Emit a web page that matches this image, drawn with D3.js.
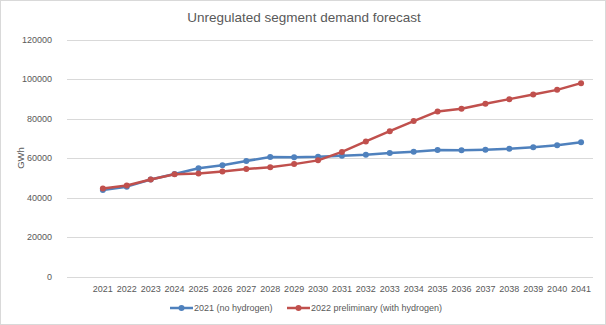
<!DOCTYPE html>
<html>
<head>
<meta charset="utf-8">
<script src="https://cdn.jsdelivr.net/npm/d3@7"></script>
<style>
  body { margin: 0; background: #fff; }
  svg { display: block; font-family: "Liberation Sans", Arial, sans-serif; }
</style>
</head>
<body>
<div id="chart"></div>
<script>
!(function(){
    "use strict"

    var width = 606;
    var height = 325;

    // Data
    var years = ["2021","2022","2023","2024","2025","2026","2027","2028","2029","2030",
                 "2031","2032","2033","2034","2035","2036","2037","2038","2039","2040","2041"];
    var noHydrogen = [43800, 45500, 49100, 51900, 54800, 56300, 58500, 60500, 60400, 60600,
                      61100, 61600, 62500, 63200, 64000, 63900, 64200, 64700, 65500, 66500, 68000];
    var withHydrogen = [44500, 46100, 49100, 51800, 52100, 53200, 54400, 55300, 56900, 58800,
                        63100, 68400, 73600, 78700, 83600, 84900, 87500, 89800, 92200, 94500, 97900];
    var yTicks = [0, 20000, 40000, 60000, 80000, 100000, 120000];
    var seriesNames = ["2021 (no hydrogen)", "2022 preliminary (with hydrogen)"];
    var seriesColors = ["#4f81bd", "#c0504d"];

    var series = [
        { name: seriesNames[0], color: seriesColors[0], values: noHydrogen },
        { name: seriesNames[1], color: seriesColors[1], values: withHydrogen }
    ];

    var margin = { left: 67, right: 13, top: 39, bottom: 48 };

    var svg = d3.select("#chart").append("svg")
        .attr("width", width)
        .attr("height", height);

    // chart border
    svg.append("rect")
        .attr("x", 0.5).attr("y", 0.5)
        .attr("width", width - 1).attr("height", height - 1)
        .attr("fill", "#fff")
        .attr("stroke", "#d9d9d9");

    // Excel leaves an empty first category slot
    var x = d3.scaleBand()
        .domain([""].concat(years))
        .range([margin.left, width - margin.right]);

    var y = d3.scaleLinear()
        .domain([0, 120000])
        .range([276.5, 39.5]);

    // gridlines
    svg.append("g")
        .selectAll("line")
        .data(yTicks)
        .join("line")
        .attr("x1", margin.left)
        .attr("x2", width - margin.right)
        .attr("y1", function(d){ return Math.round(y(d)) + 0.5; })
        .attr("y2", function(d){ return Math.round(y(d)) + 0.5; })
        .attr("stroke", "#d9d9d9")
        .attr("stroke-width", 1);

    // y labels
    var yAxis = d3.axisLeft(y).tickValues(yTicks).tickSize(0).tickPadding(10)
        .tickFormat(function(d){ return String(d); });
    var gy = svg.append("g")
        .attr("transform", "translate(" + (margin.left - 5) + ",0)")
        .call(yAxis);
    gy.select(".domain").remove();
    gy.selectAll("text").attr("fill", "#595959").style("font-size", "9px");

    // x labels
    var xAxis = d3.axisBottom(x).tickSize(0).tickPadding(9);
    var gx = svg.append("g")
        .attr("transform", "translate(0," + y(0) + ")")
        .call(xAxis);
    gx.select(".domain").remove();
    gx.selectAll("text").attr("fill", "#595959").style("font-size", "9px");

    // title
    svg.append("text")
        .attr("x", width / 2 + 1)
        .attr("y", 22)
        .attr("text-anchor", "middle")
        .attr("fill", "#595959")
        .style("font-size", "13.5px")
        .text("Unregulated segment demand forecast");

    // y axis title
    svg.append("text")
        .attr("transform", "translate(24," + y(60000) + ") rotate(-90)")
        .attr("text-anchor", "middle")
        .attr("fill", "#595959")
        .style("font-size", "9.5px")
        .text("GWh");

    var line = d3.line()
        .x(function(d, i){ return x(years[i]) + x.bandwidth() / 2; })
        .y(function(d){ return y(d); });

    var gs = svg.append("g")
        .selectAll("g")
        .data(series)
        .join("g");

    gs.append("path")
        .attr("d", function(s){ return line(s.values); })
        .attr("fill", "none")
        .attr("stroke", function(s){ return s.color; })
        .attr("stroke-width", 2.5)
        .attr("stroke-linejoin", "round");

    gs.selectAll("circle")
        .data(function(s){ return s.values.map(function(v, i){ return { v: v, i: i, c: s.color }; }); })
        .join("circle")
        .attr("cx", function(d){ return x(years[d.i]) + x.bandwidth() / 2; })
        .attr("cy", function(d){ return y(d.v); })
        .attr("r", 3)
        .attr("fill", function(d){ return d.c; });

    // legend
    var legendX = [170, 287];
    var lg = svg.append("g")
        .selectAll("g")
        .data(series)
        .join("g")
        .attr("transform", function(s, i){ return "translate(" + legendX[i] + ",308)"; });
    lg.append("line")
        .attr("x1", 0).attr("x2", 23)
        .attr("stroke", function(s){ return s.color; })
        .attr("stroke-width", 2.5);
    lg.append("circle")
        .attr("cx", 11.5).attr("r", 3)
        .attr("fill", function(s){ return s.color; });
    lg.append("text")
        .attr("x", 24)
        .attr("dy", "0.35em")
        .attr("fill", "#595959")
        .style("font-size", "9px")
        .text(function(s){ return s.name; });

}());
</script>
</body>
</html>
